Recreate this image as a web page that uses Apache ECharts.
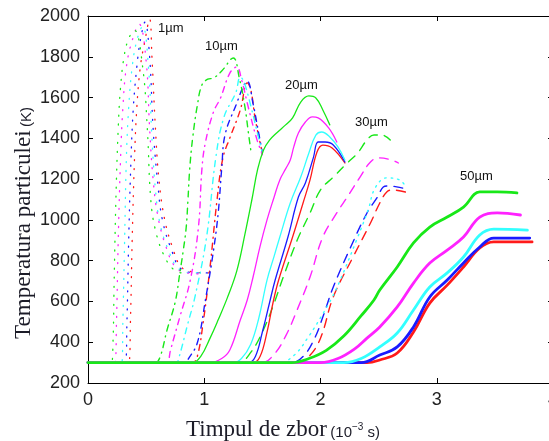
<!DOCTYPE html>
<html><head><meta charset="utf-8">
<script src="https://cdn.jsdelivr.net/npm/echarts@6/dist/echarts.min.js"></script>
<style>html,body{margin:0;padding:0;background:#fff}#c{width:549px;height:441px}</style>
</head><body><div id="c"></div>
<script>
// ---- data: [time (1e-3 s), temperature (K)] ----
const sizeLabels = ['1µm', '10µm', '20µm', '30µm', '50µm'];
const colorNames = ['red', 'blue', 'cyan', 'magenta', 'green'];

// 1 µm (dotted)
const d1_green   = [[0,300],[0.17,300],[0.2,300],[0.215,400],[0.225,700],[0.24,1100],[0.26,1450],[0.28,1650],[0.31,1800],[0.35,1890],[0.40,1930],[0.47,1750],[0.51,1450],[0.54,1100],[0.58,950],[0.65,830],[0.73,760],[0.80,740]];
const d1_magenta = [[0,300],[0.20,300],[0.23,300],[0.245,500],[0.26,900],[0.28,1300],[0.30,1550],[0.33,1750],[0.38,1880],[0.44,1960],[0.50,1780],[0.53,1450],[0.56,1200],[0.60,1020],[0.67,870],[0.75,770],[0.85,740],[0.97,735]];
const d1_cyan    = [[0,300],[0.26,300],[0.29,300],[0.30,500],[0.315,900],[0.33,1300],[0.35,1550],[0.38,1750],[0.42,1880],[0.47,1950],[0.52,1750],[0.55,1400],[0.58,1150],[0.62,980],[0.70,840],[0.78,760],[0.90,740],[1.00,740]];
const d1_blue    = [[0,300],[0.29,300],[0.32,300],[0.335,500],[0.35,900],[0.37,1300],[0.39,1550],[0.42,1750],[0.45,1880],[0.49,1970],[0.53,1800],[0.56,1450],[0.60,1180],[0.64,1000],[0.72,850],[0.80,760],[0.95,740],[1.03,740]];
const d1_red     = [[0,300],[0.32,300],[0.35,300],[0.365,500],[0.38,900],[0.40,1300],[0.42,1550],[0.45,1750],[0.49,1880],[0.53,1985],[0.55,1800],[0.58,1450],[0.61,1200],[0.66,1000],[0.73,860],[0.80,770],[0.90,745],[1.05,740]];

// 10 µm (dash-dot)
const d10_green   = [[0,300],[0.54,300],[0.58,300],[0.62,327],[0.68,460],[0.75,597],[0.79,740],[0.82,852],[0.845,965],[0.86,1100],[0.875,1250],[0.90,1400],[0.94,1560],[0.98,1662],[1.03,1690],[1.08,1696],[1.15,1730],[1.25,1794],[1.30,1700],[1.35,1554],[1.38,1426],[1.40,1343]];
const d10_magenta = [[0,300],[0.64,300],[0.68,300],[0.71,362],[0.79,524],[0.88,705],[0.95,965],[0.98,1250],[1.01,1380],[1.08,1530],[1.14,1598],[1.22,1720],[1.28,1750],[1.32,1690],[1.38,1550],[1.45,1400],[1.50,1320]];
const d10_cyan    = [[0,300],[0.72,300],[0.76,300],[0.78,320],[0.86,494],[0.92,622],[1.02,916],[1.10,1308],[1.17,1505],[1.27,1622],[1.31,1700],[1.34,1680],[1.40,1560],[1.46,1420],[1.50,1330]];
const d10_blue    = [[0,300],[0.80,300],[0.84,300],[0.86,315],[0.94,396],[1.01,607],[1.08,852],[1.12,1034],[1.15,1250],[1.18,1420],[1.28,1573],[1.34,1660],[1.37,1680],[1.42,1570],[1.47,1420],[1.50,1330]];
const d10_red     = [[0,300],[0.86,300],[0.90,300],[0.94,330],[0.99,494],[1.05,769],[1.11,1098],[1.16,1303],[1.22,1402],[1.31,1539],[1.37,1672],[1.40,1640],[1.44,1490],[1.50,1328]];

// 20 µm (thin solid)
const d20_green   = [[0,300],[0.85,300],[0.90,300],[0.97,330],[1.05,420],[1.12,510],[1.20,620],[1.28,750],[1.35,930],[1.41,1100],[1.46,1250],[1.51,1343],[1.56,1390],[1.62,1425],[1.70,1466],[1.76,1500],[1.83,1578],[1.90,1608],[1.96,1598],[2.02,1539],[2.08,1466]];
const d20_magenta = [[0,300],[1.00,300],[1.05,300],[1.15,320],[1.22,362],[1.31,509],[1.37,607],[1.42,720],[1.48,870],[1.54,1000],[1.60,1110],[1.65,1196],[1.70,1250],[1.74,1294],[1.77,1358],[1.81,1426],[1.87,1480],[1.93,1505],[1.98,1500],[2.07,1451],[2.14,1382]];
const d20_cyan    = [[0,300],[1.20,300],[1.25,300],[1.32,320],[1.40,390],[1.47,520],[1.54,705],[1.60,820],[1.65,916],[1.74,1083],[1.83,1210],[1.90,1328],[1.96,1416],[2.01,1431],[2.08,1407],[2.15,1358],[2.21,1294]];
const d20_blue    = [[0,300],[1.33,300],[1.38,300],[1.44,330],[1.50,450],[1.56,590],[1.61,705],[1.72,916],[1.81,1112],[1.87,1181],[1.94,1308],[1.98,1382],[2.04,1382],[2.11,1367],[2.21,1284]];
const d20_red     = [[0,300],[1.37,300],[1.42,300],[1.48,330],[1.54,450],[1.59,590],[1.64,705],[1.76,916],[1.85,1083],[1.91,1196],[1.97,1333],[2.02,1367],[2.10,1353],[2.21,1279]];

// 30 µm (dashed; cyan dotted)
const d30_green   = [[0,300],[1.25,300],[1.30,300],[1.40,350],[1.50,450],[1.60,590],[1.68,720],[1.80,901],[1.91,1034],[2.00,1147],[2.11,1210],[2.23,1279],[2.32,1328],[2.40,1392],[2.46,1416],[2.53,1416],[2.60,1392]];
const d30_magenta = [[0,300],[1.45,300],[1.50,300],[1.60,340],[1.70,430],[1.80,560],[1.91,720],[2.02,916],[2.14,1034],[2.23,1112],[2.34,1210],[2.43,1284],[2.50,1304],[2.61,1294],[2.67,1279]];
const d30_cyan    = [[0,300],[1.60,300],[1.65,300],[1.78,340],[1.90,430],[2.00,520],[2.10,620],[2.17,705],[2.31,901],[2.41,1049],[2.47,1157],[2.57,1206],[2.68,1196],[2.74,1157]];
const d30_blue    = [[0,300],[1.70,300],[1.75,300],[1.85,330],[1.95,420],[2.03,540],[2.11,671],[2.26,867],[2.40,1034],[2.49,1112],[2.54,1161],[2.58,1166],[2.70,1157],[2.74,1147]];
const d30_red     = [[0,300],[1.75,300],[1.80,300],[1.90,330],[2.00,420],[2.11,622],[2.28,818],[2.43,985],[2.51,1083],[2.57,1137],[2.62,1147],[2.73,1137]];

// 50 µm (thick solid)
const d50_green   = [[0,300],[1.68,300],[1.75,300],[1.90,320],[2.05,360],[2.20,430],[2.35,530],[2.46,607],[2.51,656],[2.66,769],[2.80,887],[2.94,965],[3.09,1014],[3.23,1063],[3.37,1137],[3.52,1137],[3.69,1132]];
const d50_magenta = [[0,300],[1.93,300],[2.00,300],[2.15,320],[2.30,370],[2.40,420],[2.51,475],[2.66,573],[2.80,690],[2.94,788],[3.09,852],[3.23,916],[3.37,1014],[3.52,1034],[3.72,1024]];
const d50_cyan    = [[0,300],[2.13,300],[2.20,300],[2.35,320],[2.51,377],[2.66,445],[2.80,558],[2.94,671],[3.09,740],[3.23,818],[3.37,926],[3.49,955],[3.78,950]];
const d50_blue    = [[0,300],[2.28,300],[2.35,300],[2.51,337],[2.66,377],[2.80,475],[2.94,622],[3.09,705],[3.23,789],[3.37,867],[3.49,911],[3.80,911]];
const d50_red     = [[0,300],[2.33,300],[2.40,300],[2.51,313],[2.66,347],[2.80,450],[2.94,592],[3.09,680],[3.23,769],[3.37,862],[3.49,892],[3.82,892]];

// ---- styling ----
const COLORS = {red:'#ff1a1a', blue:'#1a1aff', cyan:'#33ffff', magenta:'#ff22ff', green:'#18e818'};

function mk(data, color, width, type, z) {
  return {
    type: 'line', data: data, symbol: 'none', showSymbol: false,
    smooth: 0.4, z: z, silent: true,
    lineStyle: {color: color, width: width, type: type, cap: 'round'}
  };
}

const groups = [
  {sets:{red:d1_red, blue:d1_blue, cyan:d1_cyan, magenta:d1_magenta, green:d1_green}, w:1.3, t:[1,8], z:2},
  {sets:{red:d10_red, blue:d10_blue, cyan:d10_cyan, magenta:d10_magenta, green:d10_green}, w:1.4, t:[6,5,1,5], z:3},
  {sets:{red:d30_red, blue:d30_blue, cyan:d30_cyan, magenta:d30_magenta, green:d30_green}, w:1.4, t:[9,7], z:4},
  {sets:{red:d20_red, blue:d20_blue, cyan:d20_cyan, magenta:d20_magenta, green:d20_green}, w:1.3, t:'solid', z:5},
  {sets:{red:d50_red, blue:d50_blue, cyan:d50_cyan, magenta:d50_magenta, green:d50_green}, w:2.8, t:'solid', z:6}
];

const series = [];
groups.forEach((g, gi) => {
  colorNames.forEach(cn => {
    let type = g.t;
    if (gi === 2 && cn === 'cyan') type = [1.5, 5];
    series.push(mk(g.sets[cn], COLORS[cn], g.w, type, g.z));
  });
});

const labelFont = {fontSize: 18, color: '#222', margin: 8, fontFamily: '"Liberation Sans", Arial, sans-serif', formatter: v => String(v)};
const lineCommon = {show: true, onZero: false, lineStyle: {color: '#000', width: 1}};
const tickCommon = {show: true, inside: true, length: 5, lineStyle: {color: '#000'}};

const chart = echarts.init(document.getElementById('c'), null, {renderer: 'canvas'});
chart.setOption({
  animation: false,
  backgroundColor: '#fff',
  grid: {left: 88, right: -4, top: 16, bottom: 58, containLabel: false, outerBoundsMode: 'none'},
  xAxis: [
    {type: 'value', position: 'bottom', min: 0, max: 4, interval: 1, axisLine: lineCommon, axisTick: tickCommon, splitLine: {show: false}, axisLabel: labelFont},
    {type: 'value', position: 'top', min: 0, max: 4, interval: 1, axisLine: lineCommon, axisTick: tickCommon, splitLine: {show: false}, axisLabel: {show: false}}
  ],
  yAxis: [
    {type: 'value', position: 'left', min: 200, max: 2000, interval: 200, axisLine: lineCommon, axisTick: tickCommon, splitLine: {show: false}, axisLabel: labelFont},
    {type: 'value', position: 'right', min: 200, max: 2000, interval: 200, axisLine: lineCommon, axisTick: tickCommon, splitLine: {show: false}, axisLabel: {show: false}}
  ],
  series: series,
  graphic: [
    {type: 'text', left: 158, top: 22, z: 100, style: {text: sizeLabels[0], font: '13px "Liberation Sans", Arial, sans-serif', fill: '#111'}},
    {type: 'text', left: 205, top: 40, z: 100, style: {text: sizeLabels[1], font: '13px "Liberation Sans", Arial, sans-serif', fill: '#111'}},
    {type: 'text', left: 285, top: 79, z: 100, style: {text: sizeLabels[2], font: '13px "Liberation Sans", Arial, sans-serif', fill: '#111'}},
    {type: 'text', left: 355, top: 116, z: 100, style: {text: sizeLabels[3], font: '13px "Liberation Sans", Arial, sans-serif', fill: '#111'}},
    {type: 'text', left: 460, top: 170, z: 100, style: {text: sizeLabels[4], font: '13px "Liberation Sans", Arial, sans-serif', fill: '#111'}},
    {type: 'text', x: 186, y: 430, z: 100,
     style: {text: '{a|Timpul de zbor} {b|(10}{s|−3}{b| s)}', verticalAlign: 'middle', align: 'left',
       rich: {
         a: {font: '23px "Liberation Serif", "Times New Roman", serif', fill: '#1c1c28'},
         b: {font: '15px "Liberation Sans", Arial, sans-serif', fill: '#1c1c28', padding: [6,0,0,0]},
         s: {font: '10px "Liberation Sans", Arial, sans-serif', fill: '#1c1c28', padding: [0,0,6,0]}
       }}},
    {type: 'text', x: 24, y: 223, rotation: Math.PI / 2, z: 100,
     style: {text: '{a|Temperatura particulei} {b|(K)}', verticalAlign: 'middle', align: 'center',
       rich: {
         a: {font: '23px "Liberation Serif", "Times New Roman", serif', fill: '#1c1c28'},
         b: {font: '15px "Liberation Sans", Arial, sans-serif', fill: '#1c1c28', padding: [6,0,0,0]}
       }}}
  ]
});
</script>
</body></html>
